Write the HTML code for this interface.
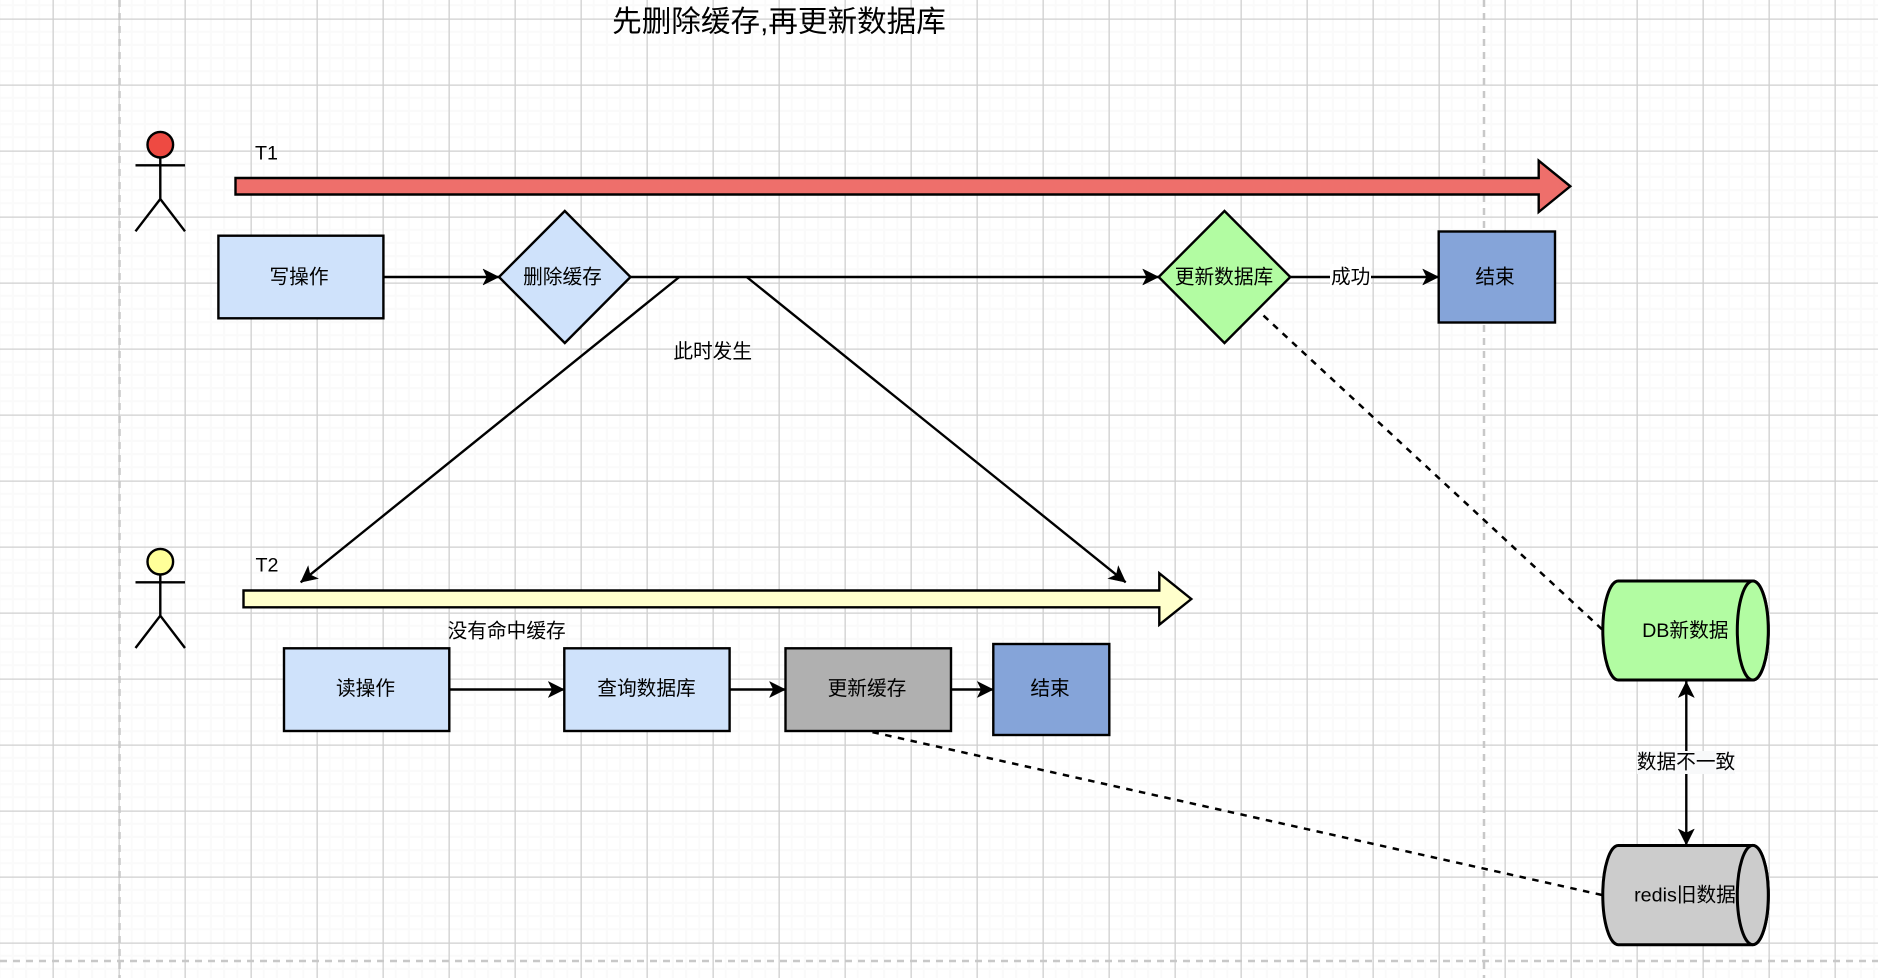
<!DOCTYPE html>
<html><head><meta charset="utf-8"><style>
html,body{margin:0;padding:0;background:#fff;width:1878px;height:978px;overflow:hidden}
svg{display:block}
text{font-family:"Liberation Sans","Noto Sans CJK SC",sans-serif;font-size:19.7px;fill:#000;text-anchor:middle;dominant-baseline:central;transform:translateY(2px)}
.s{stroke:#000;stroke-width:2.4}
.l{stroke:#000;stroke-width:2.4;fill:none}
.d{stroke:#000;stroke-width:2.5;fill:none;stroke-dasharray:6.5 6.5}
.g{stroke:#c8c8c8;stroke-width:2.5;stroke-dasharray:7 6;fill:none}
</style></head><body>
<svg xmlns="http://www.w3.org/2000/svg" width="1878" height="978" viewBox="0 0 1878 978">
<defs>
<pattern id="gr" patternUnits="userSpaceOnUse" x="52.5" y="18.5" width="66" height="66">
<path d="M13.2 0V66M26.4 0V66M39.6 0V66M52.8 0V66M0 13.2H66M0 26.4H66M0 39.6H66M0 52.8H66" stroke="#fafafa" stroke-width="2" fill="none"/>
<path d="M0 0V66M0 0H66" stroke="#cfcfcf" stroke-width="2.6" fill="none"/>
</pattern>
<marker id="a" markerUnits="userSpaceOnUse" markerWidth="18" markerHeight="18" refX="16" refY="8" orient="auto-start-reverse" overflow="visible">
<path d="M0 0L16 8L0 16L4 8Z" fill="#000" stroke="#000" stroke-width="0.5"/>
</marker>
</defs>
<rect width="1878" height="978" fill="#fff"/>
<rect width="1878" height="978" fill="url(#gr)"/>
<path class="g" d="M119.5 0V978M1484 0V978M0 961H1878"/>

<text x="779" y="20" style="font-size:29.6px">先删除缓存,再更新数据库</text>

<!-- actor 1 -->
<ellipse cx="160.3" cy="144.7" rx="12.8" ry="12.8" fill="#ee4a42" class="s"/>
<path class="l" d="M160.3 157.5V199M135.5 165.3H185M135.5 231.3L160.3 199L185 231.3"/>
<text x="266.5" y="151.5">T1</text>
<path class="s" fill="#ee6f6b" stroke-linejoin="miter" d="M235.5 178H1538.7V160.7L1570.3 186.3L1538.7 212V194.5H235.5Z"/>

<!-- actor 2 -->
<ellipse cx="160.3" cy="561.7" rx="12.8" ry="12.8" fill="#ffff99" class="s"/>
<path class="l" d="M160.3 574.5V615.7M135.5 582.3H185M135.5 648L160.3 615.7L185 648"/>
<text x="267" y="563.5">T2</text>
<path class="s" fill="#ffffcc" d="M243.5 590.5H1159.3V573.3L1191.3 599L1159.3 624.7V607.3H243.5Z"/>

<!-- row 1 -->
<rect x="218.4" y="235.7" width="165" height="82.6" fill="#cfe2fb" class="s"/>
<text x="299" y="275.5">写操作</text>
<path class="s" fill="#cfe2fb" d="M564.8 211L630.5 277L564.8 343L499 277Z"/>
<text x="562.5" y="275.5">删除缓存</text>
<path class="s" fill="#b2fca2" d="M1224.5 211L1290.3 277L1224.5 343L1158.7 277Z"/>
<text x="1224" y="275.5">更新数据库</text>
<rect x="1438.7" y="231.5" width="116.3" height="91" fill="#85a4d9" class="s"/>
<text x="1495" y="275.5">结束</text>
<path class="l" marker-end="url(#a)" d="M383.5 277H499"/>
<path class="l" marker-end="url(#a)" d="M630.5 277H1158.7"/>
<path class="l" marker-end="url(#a)" d="M1290.3 277H1438.7"/>
<rect x="1330" y="264" width="41" height="26" fill="#fff"/>
<text x="1350.7" y="275.5">成功</text>
<path class="l" marker-end="url(#a)" d="M679.3 277L300.7 582.3"/>
<path class="l" marker-end="url(#a)" d="M746.7 277L1125.7 582.3"/>
<text x="712.7" y="350">此时发生</text>

<!-- row 2 -->
<text x="506.7" y="629.5">没有命中缓存</text>
<rect x="284" y="648.3" width="165.3" height="82.7" fill="#cfe2fb" class="s"/>
<text x="365.5" y="687">读操作</text>
<rect x="564.3" y="648.3" width="165.3" height="82.7" fill="#cfe2fb" class="s"/>
<text x="646.5" y="687">查询数据库</text>
<rect x="785.5" y="648.3" width="165.5" height="82.7" fill="#b0b0b0" class="s"/>
<text x="867" y="687">更新缓存</text>
<rect x="993.3" y="644" width="116" height="91" fill="#85a4d9" class="s"/>
<text x="1050" y="687">结束</text>
<path class="l" marker-end="url(#a)" d="M449.3 689.5H564.3"/>
<path class="l" marker-end="url(#a)" d="M729.6 689.5H785.5"/>
<path class="l" marker-end="url(#a)" d="M951 689.5H993.3"/>

<!-- dashed links -->
<path class="d" d="M1602 629.3L1259.3 311.7"/>
<path class="d" d="M1602 895L872 732"/>

<!-- cylinders -->
<path class="s" fill="#b2fca2" style="stroke-width:3" d="M1618.3 581H1752.8A15.5 49.5 0 0 1 1752.8 680H1618.3A15.5 49.5 0 0 1 1618.3 581Z"/>
<ellipse class="s" fill="#b2fca2" style="stroke-width:3" cx="1752.8" cy="630.5" rx="15.5" ry="49.5"/>
<text x="1685.3" y="629">DB新数据</text>
<path class="s" fill="#cccccc" style="stroke-width:3" d="M1618.3 845.5H1752.8A15.5 49.5 0 0 1 1752.8 944.7H1618.3A15.5 49.5 0 0 1 1618.3 845.5Z"/>
<ellipse class="s" fill="#cccccc" style="stroke-width:3" cx="1752.8" cy="895" rx="15.5" ry="49.6"/>
<text x="1685" y="893.5">redis旧数据</text>

<path class="l" marker-start="url(#a)" marker-end="url(#a)" d="M1686.3 681.5V845"/>
<rect x="1637" y="751" width="98" height="23" fill="#f8f9fa"/>
<text x="1686" y="760.5">数据不一致</text>
</svg>
</body></html>
